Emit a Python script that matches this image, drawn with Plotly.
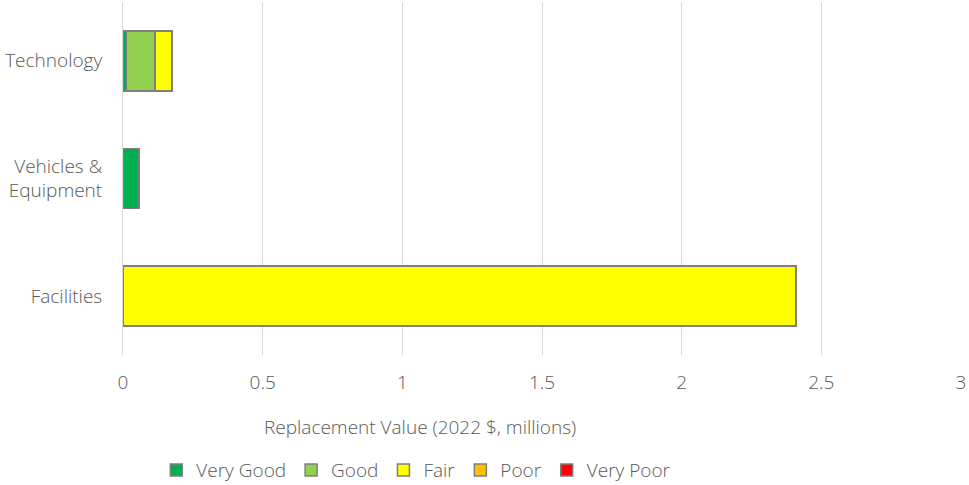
import plotly.graph_objects as go

categories = ["Facilities", "Vehicles &<br>Equipment", "Technology"]
series_names = ["Very Good", "Good", "Fair", "Poor", "Very Poor"]
very_good = [0.0, 0.057, 0.013]
good = [0.0, 0.0, 0.101]
fair = [2.41, 0.0, 0.061]
poor = [0.0, 0.0, 0.0]
very_poor = [0.0, 0.0, 0.0]
x_ticks = [0, 0.5, 1, 1.5, 2, 2.5, 3]
x_tick_labels = ["0", "0.5", "1", "1.5", "2", "2.5", "3"]
x_title = "Replacement Value (2022 $, millions)"

colors = ["#00B050", "#92D050", "#FFFF00", "#FFC000", "#FF0000"]
values = [very_good, good, fair, poor, very_poor]

font_family = "Open Sans, Segoe UI, sans-serif"
grey = "#595959"

fig = go.Figure()
for name, vals, col in zip(series_names, values, colors):
    fig.add_trace(go.Bar(
        y=categories, x=vals, name=name, orientation="h",
        marker=dict(color=col, line=dict(color="#7F7F7F", width=1.5)),
    ))

fig.update_layout(
    barmode="stack",
    bargap=0.49,
    width=969, height=485,
    margin=dict(l=123, r=8, t=2, b=130, autoexpand=False),
    plot_bgcolor="white", paper_bgcolor="white",
    font=dict(family=font_family, size=18, color=grey, weight=300),
    xaxis=dict(
        range=[0, 3], tickvals=x_ticks, ticktext=x_tick_labels,
        showgrid=True, gridcolor="#D9D9D9", gridwidth=1, zeroline=False,
        showline=False, ticks="", ticklabelstandoff=14, automargin=False,
        tickfont=dict(size=19, color=grey, weight=300),
    ),
    yaxis=dict(
        showgrid=False, ticks="", showline=True, linecolor="#D9D9D9", linewidth=1,
        tickfont=dict(size=19, color=grey, weight=300), ticklabelstandoff=16,
        automargin=False,
    ),
    legend=dict(
        orientation="h", x=0.35, xanchor="center", y=-0.326, yanchor="middle",
        font=dict(size=19, color=grey, weight=300), traceorder="normal",
        itemwidth=30, tracegroupgap=0,
    ),
    annotations=[dict(
        text=x_title, xref="paper", yref="paper", x=0.354, y=-0.204,
        xanchor="center", yanchor="middle", showarrow=False,
        font=dict(size=19, color=grey, weight=300),
    )],
)

fig.write_html("out.html")
